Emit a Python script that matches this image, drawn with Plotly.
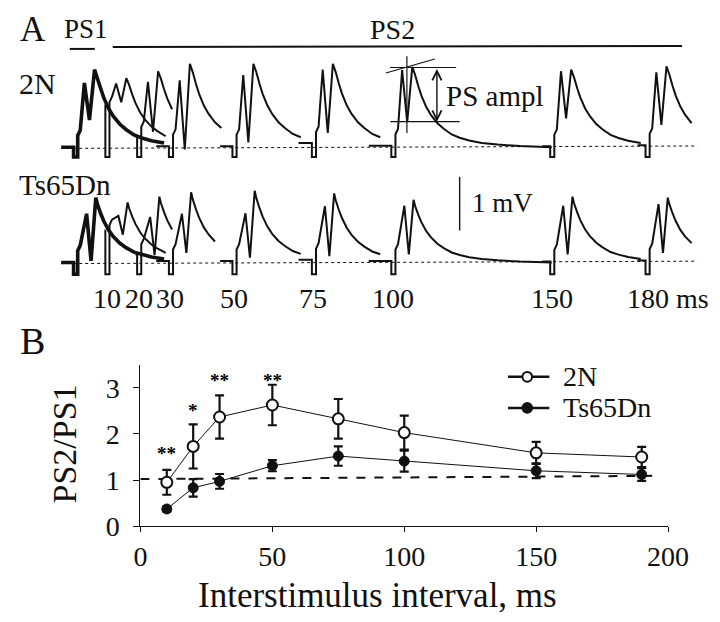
import plotly.graph_objects as go

W, H = 720, 622
FONT = "Liberation Serif"
BLACK = "#111111"

# ---------------- Panel B data ----------------
isi = [10, 20, 30, 50, 75, 100, 150, 190]
n2_ratio = [0.95, 1.73, 2.37, 2.63, 2.33, 2.03, 1.59, 1.50]
n2_err = [0.27, 0.48, 0.47, 0.44, 0.43, 0.37, 0.24, 0.22]
ts_ratio = [0.37, 0.83, 0.97, 1.31, 1.52, 1.41, 1.20, 1.12]
ts_err = [0.06, 0.19, 0.16, 0.12, 0.21, 0.23, 0.16, 0.14]
stars_x = [10, 20, 30, 50]
stars_y = [1.69, 2.62, 3.28, 3.28]
stars_txt = ["**", "*", "**", "**"]
ref_x = [0, 194]
ref_y = [1.02, 1.09]
b_xticks = [0, 50, 100, 150, 200]
b_yticks = [0, 1, 2, 3]
legend_names = ["2N", "Ts65Dn"]

# ---------------- Panel A data (mV above baseline) ----------------
intervals = [10, 20, 30, 50, 75, 100, 150, 180]
interval_labels = ["10", "20", "30", "50", "75", "100", "150", "180 ms"]

n2_p1 = [1.19, 1.22, 1.25, 1.35, 1.45, 1.44, 1.42, 1.40]
n2_dip = [0.84, 0.29, -0.04, 0.09, 0.27, 0.47, 0.54, 0.42]
n2_p2 = [1.29, 1.42, 1.56, 1.56, 1.56, 1.50, 1.45, 1.51]
n2_pre = [0.78, 0.20, 0.02, 0.02, 0.08, 0.03, 0.02, 0.04]
n2_start = [-0.4, -1.0, -4.5, -4.4, -4.7, -7.6, -3.0, -3.0]
n2_end = [18.5, 11.0, 17.0, 22.0, 22.0, 50.0, 29.6, 15.3]
n2_ps1 = [1.20, 0.51, 1.45]

ts_p1 = [0.87, 0.85, 0.91, 0.92, 1.05, 1.06, 1.06, 1.09]
ts_dip = [0.52, 0.14, 0.18, 0.09, 0.12, 0.15, 0.15, 0.18]
ts_p2 = [1.12, 1.23, 1.31, 1.34, 1.29, 1.17, 1.23, 1.21]
ts_pre = [0.60, 0.15, 0.03, 0.03, 0.05, 0.03, 0.02, 0.04]
ts_start = [-0.4, -1.0, -4.5, -4.4, -4.7, -7.6, -3.0, -3.0]
ts_end = [18.5, 11.0, 15.6, 21.8, 22.0, 50.0, 29.6, 15.3]
ts_ps1 = [0.91, 0.03, 1.21]

# shared waveform timing (ms after stimulus) and decay (fraction of 2nd peak)
n2_peak_t = [2.9, 4.5, 6.1]
ts_peak_t = [3.6, 5.0, 6.5]
decay_t = [7.0, 8.0, 9, 10.5, 12, 14, 16, 18.5, 21, 24, 28, 33, 40, 50]
decay_f = [0.9, 0.76, 0.64, 0.50, 0.40, 0.30, 0.23, 0.16, 0.12, 0.085, 0.055, 0.035, 0.015, 0.0]

# layout constants
TS_OFFSET = -2.15          # vertical offset of Ts65Dn row (mV)
A_XRANGE = [-18.935, 198.85]
A_YRANGE = [-8.709, 2.6]


def px2paper(x, y):
    return x / W, 1 - y / H


def sweep(stim, start, pre, notch, peak_t, peaks, end, offset):
    p1, dip, p2 = peaks
    rel = [start, -0.5, -0.5, 0.8, 0.8, 1.6, peak_t[0], peak_t[1], peak_t[2]]
    val = [pre, pre, -notch, -notch, 0.8 * pre + 0.22, 0.8 * pre + 0.32, p1, dip, p2]
    for t, f in zip(decay_t, decay_f):
        if t <= end:
            rel.append(t)
            val.append(p2 * f)
    return [stim + r for r in rel], [v + offset for v in val]


fig = go.Figure()

# ---------------- Panel A traces ----------------
for label, p1s, dips, p2s, pres, starts, ends, ps1, pk, notch, off in [
    ("2N", n2_p1, n2_dip, n2_p2, n2_pre, n2_start, n2_end, n2_ps1, n2_peak_t, 0.18, 0.0),
    ("Ts65Dn", ts_p1, ts_dip, ts_p2, ts_pre, ts_start, ts_end, ts_ps1, ts_peak_t, 0.22, TS_OFFSET),
]:
    # baseline (dotted)
    fig.add_trace(go.Scatter(x=[-4.4, 195.8], y=[off - 0.02, off + 0.025], mode="lines",
                             line=dict(color=BLACK, width=1, dash="dot"),
                             xaxis="x2", yaxis="y2", showlegend=False, hoverinfo="skip"))
    # PS1 (superimposed sweeps -> thick)
    x, y = sweep(0, -4.4, 0.0, notch, pk, ps1, 28, off)
    fig.add_trace(go.Scatter(x=x, y=y, mode="lines", line=dict(color=BLACK, width=3.6),
                             xaxis="x2", yaxis="y2", showlegend=False, hoverinfo="skip"))
    # PS2 sweeps
    for i, iv in enumerate(intervals):
        x, y = sweep(iv, starts[i], pres[i], notch, pk, (p1s[i], dips[i], p2s[i]), ends[i], off)
        fig.add_trace(go.Scatter(x=x, y=y, mode="lines", line=dict(color=BLACK, width=2),
                                 xaxis="x2", yaxis="y2", showlegend=False, hoverinfo="skip"))

# ---------------- Panel B ----------------
fig.add_trace(go.Scatter(x=ref_x, y=ref_y, mode="lines",
                         line=dict(color=BLACK, width=2, dash="dash"),
                         showlegend=False, hoverinfo="skip"))
fig.add_trace(go.Scatter(
    x=isi, y=ts_ratio, mode="lines+markers", name=legend_names[1], showlegend=False,
    line=dict(color=BLACK, width=1),
    marker=dict(symbol="circle", size=10, color=BLACK, line=dict(color=BLACK, width=1)),
    error_y=dict(type="data", array=ts_err, color=BLACK, thickness=2.2, width=4.5)))
fig.add_trace(go.Scatter(
    x=isi, y=n2_ratio, mode="lines+markers", name=legend_names[0], showlegend=False,
    line=dict(color=BLACK, width=1),
    marker=dict(symbol="circle", size=11, color="white", line=dict(color=BLACK, width=2)),
    error_y=dict(type="data", array=n2_err, color=BLACK, thickness=2.2, width=4.5)))

annotations = []
for sx, sy, st in zip(stars_x, stars_y, stars_txt):
    annotations.append(dict(x=sx, y=sy, xref="x", yref="y", text="<b>" + st + "</b>",
                            showarrow=False, yshift=-5,
                            font=dict(family=FONT, size=19, color="#000000")))


def ptext(text, x, y, size, xanchor="left", textangle=0):
    xp, yp = px2paper(x, y)
    annotations.append(dict(x=xp, y=yp, xref="paper", yref="paper", text=text,
                            showarrow=False, xanchor=xanchor, yanchor="middle",
                            textangle=textangle,
                            font=dict(family=FONT, size=size, color=BLACK)))


ptext("A", 3, 22, 35)
ptext("PS1", 49, 22, 27)
ptext("PS2", 367, 22, 28)
ptext("2N", 2, 77, 30)
ptext("Ts65Dn", 2, 182, 29)
ptext("PS ampl", 446, 90, 29)
ptext("1 mV", 473, 200, 27)
ptext("B", 3, 342, 38)
ptext("PS2/PS1", 52, 447, 34, xanchor="center", textangle=-90)
ptext("Interstimulus interval, ms", 377, 603, 35, xanchor="center")

# manual legend (panel B)
shapes = []
leg_rows = [378.5, 410.5]
for name, ly, filled in zip(legend_names, leg_rows, [False, True]):
    a0 = px2paper(513, ly)
    a1 = px2paper(556, ly)
    shapes.append(dict(type="line", xref="paper", yref="paper", x0=a0[0], y0=a0[1],
                       x1=a1[0], y1=a1[1], line=dict(color=BLACK, width=2.5)))
    c0 = px2paper(528, ly - 5)
    c1 = px2paper(538, ly + 5)
    shapes.append(dict(type="circle", xref="paper", yref="paper", x0=c0[0], y0=c1[1],
                       x1=c1[0], y1=c0[1], fillcolor=BLACK if filled else "white",
                       line=dict(color=BLACK, width=2)))
    ptext(name, 568, ly, 28)

# interval labels under panel A
lab_y = px2paper(0, 298)[1]
for iv, lab in zip(intervals, interval_labels):
    if lab.endswith("ms"):
        annotations.append(dict(x=iv, y=lab_y, xref="x2", yref="paper", text=lab,
                                showarrow=False, xanchor="left", xshift=-22, yanchor="middle",
                                font=dict(family=FONT, size=28, color=BLACK)))
    else:
        annotations.append(dict(x=iv, y=lab_y, xref="x2", yref="paper", text=lab,
                                showarrow=False, xanchor="center", yanchor="middle",
                                font=dict(family=FONT, size=28, color=BLACK)))

# PS amplitude double arrow
annotations.append(dict(x=113.85, y=0.478, ax=113.85, ay=1.49, xref="x2", yref="y2",
                        axref="x2", ayref="y2", text="", showarrow=True,
                        arrowhead=5, startarrowhead=5, arrowside="end+start",
                        arrowsize=1.3, startarrowsize=1.3, arrowwidth=1.4, arrowcolor=BLACK))


def pline(x0, y0, x1, y1, w=1.6):
    a0 = px2paper(x0, y0)
    a1 = px2paper(x1, y1)
    shapes.append(dict(type="line", xref="paper", yref="paper", x0=a0[0], y0=a0[1],
                       x1=a1[0], y1=a1[1], line=dict(color=BLACK, width=w)))


def dline(x0, y0, x1, y1, w=1.2):
    shapes.append(dict(type="line", xref="x2", yref="y2", x0=x0, y0=y0, x1=x1, y1=y1,
                       line=dict(color=BLACK, width=w)))


pline(57, 42, 83, 42, 2)          # PS1 bar
pline(101.7, 40, 694, 39, 2)      # PS2 bar
dline(99.1, 1.49, 119.9, 1.49)    # top level
dline(97.8, 1.387, 113.2, 1.649)  # tangent
dline(104.4, 1.70, 104.4, 0.267)  # vertical
dline(99.2, 0.478, 121.0, 0.478)  # bottom level
dline(121.0, -0.551, 121.0, -1.551, 1.4)  # 1 mV scale bar

fig.update_layout(
    width=W, height=H,
    margin=dict(l=0, r=0, t=0, b=0),
    paper_bgcolor="white", plot_bgcolor="rgba(0,0,0,0)",
    font=dict(family=FONT, color=BLACK),
    annotations=annotations, shapes=shapes,
    showlegend=False,
    xaxis=dict(domain=[130.5 / W, 679.5 / W], range=[0, 200], tickvals=b_xticks,
               showline=True, linecolor=BLACK, linewidth=1, ticks="outside", ticklen=5,
               tickcolor=BLACK, showgrid=False, zeroline=False,
               tickfont=dict(family=FONT, size=28, color=BLACK)),
    yaxis=dict(domain=[1 - 531.7 / H, 1 - 366.4 / H], range=[0, 3.5], tickvals=b_yticks,
               showline=True, linecolor=BLACK, linewidth=1, ticks="outside", ticklen=6,
               tickcolor=BLACK, showgrid=False, zeroline=False, ticklabelstandoff=8,
               tickfont=dict(family=FONT, size=28, color=BLACK)),
    xaxis2=dict(domain=[0, 1], range=A_XRANGE, visible=False, anchor="y2"),
    yaxis2=dict(domain=[0, 1], range=A_YRANGE, visible=False, anchor="x2"),
)

fig.write_html("out.html")
